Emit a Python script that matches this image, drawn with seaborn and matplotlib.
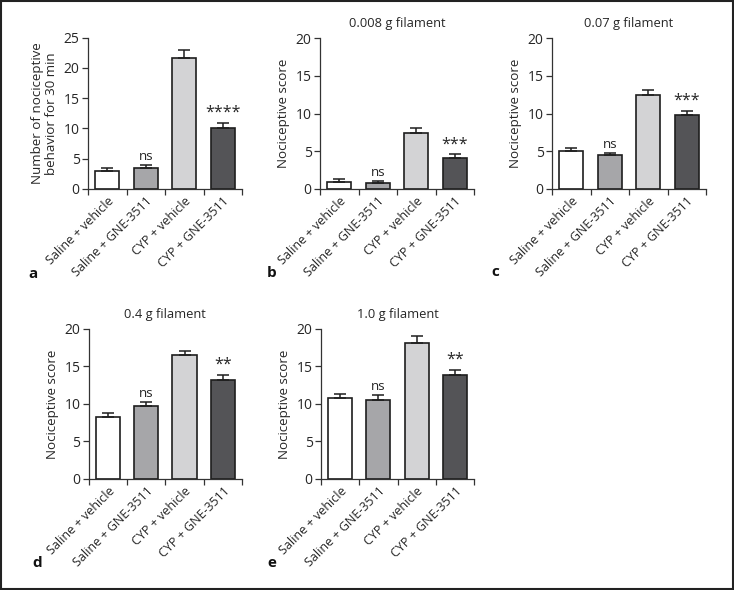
import numpy as np
import pandas as pd
import matplotlib
matplotlib.use("Agg")
import matplotlib.pyplot as plt
import seaborn as sns
from matplotlib.patches import Rectangle

categories = ["Saline + vehicle", "Saline + GNE-3511", "CYP + vehicle", "CYP + GNE-3511"]

a_mean = [3.0, 3.45, 21.65, 10.1]
a_err = [0.5, 0.57, 1.3, 0.85]
b_mean = [0.97, 0.75, 7.38, 4.07]
b_err = [0.4, 0.28, 0.66, 0.53]
c_mean = [5.0, 4.45, 12.5, 9.8]
c_err = [0.4, 0.35, 0.68, 0.55]
d_mean = [8.27, 9.73, 16.46, 13.2]
d_err = [0.45, 0.45, 0.55, 0.65]
e_mean = [10.8, 10.57, 18.05, 13.8]
e_err = [0.57, 0.63, 0.95, 0.75]

sig_labels = {
    "a": ["", "ns", "", "****"],
    "b": ["", "ns", "", "***"],
    "c": ["", "ns", "", "***"],
    "d": ["", "ns", "", "**"],
    "e": ["", "ns", "", "**"],
}
titles = {"a": "", "b": "0.008 g filament", "c": "0.07 g filament",
          "d": "0.4 g filament", "e": "1.0 g filament"}
ylabels = {"a": "Number of nociceptive\nbehavior for 30 min",
           "b": "Nociceptive score", "c": "Nociceptive score",
           "d": "Nociceptive score", "e": "Nociceptive score"}
ymax = {"a": 25, "b": 20, "c": 20, "d": 20, "e": 20}

bar_colors = ["#ffffff", "#a6a6a9", "#d3d3d5", "#545457"]

sns.set_theme(style="ticks")
plt.rcParams["font.family"] = ["Open Sans", "DejaVu Sans"]
TXT = "#262626"

W, H = 734, 590
fig = plt.figure(figsize=(W / 100, H / 100), dpi=100)

def fx(px):
    return px / W

def fy(py):
    return 1 - py / H

# axes pixel boxes: left, right, top, bottom
boxes = {
    "a": (88, 242, 37.7, 189),
    "b": (320, 474, 38.3, 189),
    "c": (552, 706, 38.3, 189),
    "d": (88.7, 242, 328.7, 479),
    "e": (321, 474, 328.7, 479),
}
data = {"a": (a_mean, a_err), "b": (b_mean, b_err), "c": (c_mean, c_err),
        "d": (d_mean, d_err), "e": (e_mean, e_err)}

for key, (l, r, t, b) in boxes.items():
    ax = fig.add_axes([fx(l), fy(b), fx(r - l), (b - t) / H])
    mean, err = data[key]
    df = pd.DataFrame({"group": categories, "value": mean})
    sns.barplot(data=df, x="group", y="value", hue="group", palette=bar_colors,
                order=categories, hue_order=categories, legend=False,
                width=0.63, edgecolor="#1e1e1e", linewidth=1.2, ax=ax,
                errorbar=None)
    xs = np.arange(len(categories))
    ax.errorbar(xs, mean, yerr=[np.zeros(len(mean)), err], fmt="none",
                ecolor="#1e1e1e", elinewidth=1.1, capsize=4.5, capthick=1.1,
                zorder=1)
    for i, s in enumerate(sig_labels[key]):
        if s:
            ax.annotate(s, xy=(i, mean[i] + err[i]), xytext=(0, 1.5),
                        textcoords="offset points", ha="center", va="bottom",
                        fontsize=9.6 if s == "ns" else 11.5, color=TXT)
    ax.set_xlim(-0.5, 3.5)
    ax.set_ylim(0, ymax[key])
    ax.set_yticks(np.arange(0, ymax[key] + 1, 5))
    ax.set_xticks(xs)
    ax.set_xticklabels(categories, rotation=45, ha="right",
                       rotation_mode="anchor", fontsize=9.0, color=TXT)
    ax.set_xticks(np.arange(-0.5, 4, 1), minor=True)
    ax.tick_params(axis="x", which="major", length=0, pad=4)
    ax.tick_params(axis="x", which="minor", length=4, width=0.9, color="#333333",
                   direction="out")
    ax.tick_params(axis="y", length=4, width=0.9, color="#333333",
                   labelsize=10, labelcolor=TXT, pad=2)
    ax.set_xlabel("")
    ax.set_ylabel(ylabels[key], fontsize=9.6, color=TXT, labelpad=4,
                  linespacing=1.1)
    if titles[key]:
        ax.set_title(titles[key], fontsize=9.3, color=TXT, pad=8)
    sns.despine(ax=ax)
    for sp in ("left", "bottom"):
        ax.spines[sp].set_linewidth(0.9)
        ax.spines[sp].set_color("#333333")
    ax.set_facecolor("none")

letters = {"a": (28, 278), "b": (267, 277), "c": (491, 276),
           "d": (32, 567), "e": (267, 567)}
for k, (px, py) in letters.items():
    fig.text(fx(px), fy(py), k, fontsize=11, fontweight="bold", color="#111111",
             ha="left", va="baseline")

fig.patches.append(Rectangle((fx(1), fy(588.5)), fx(732), (587.5) / H,
                             transform=fig.transFigure, fill=False,
                             edgecolor="#222222", linewidth=1.5))

fig.savefig("out.png", dpi=100, facecolor="white")
